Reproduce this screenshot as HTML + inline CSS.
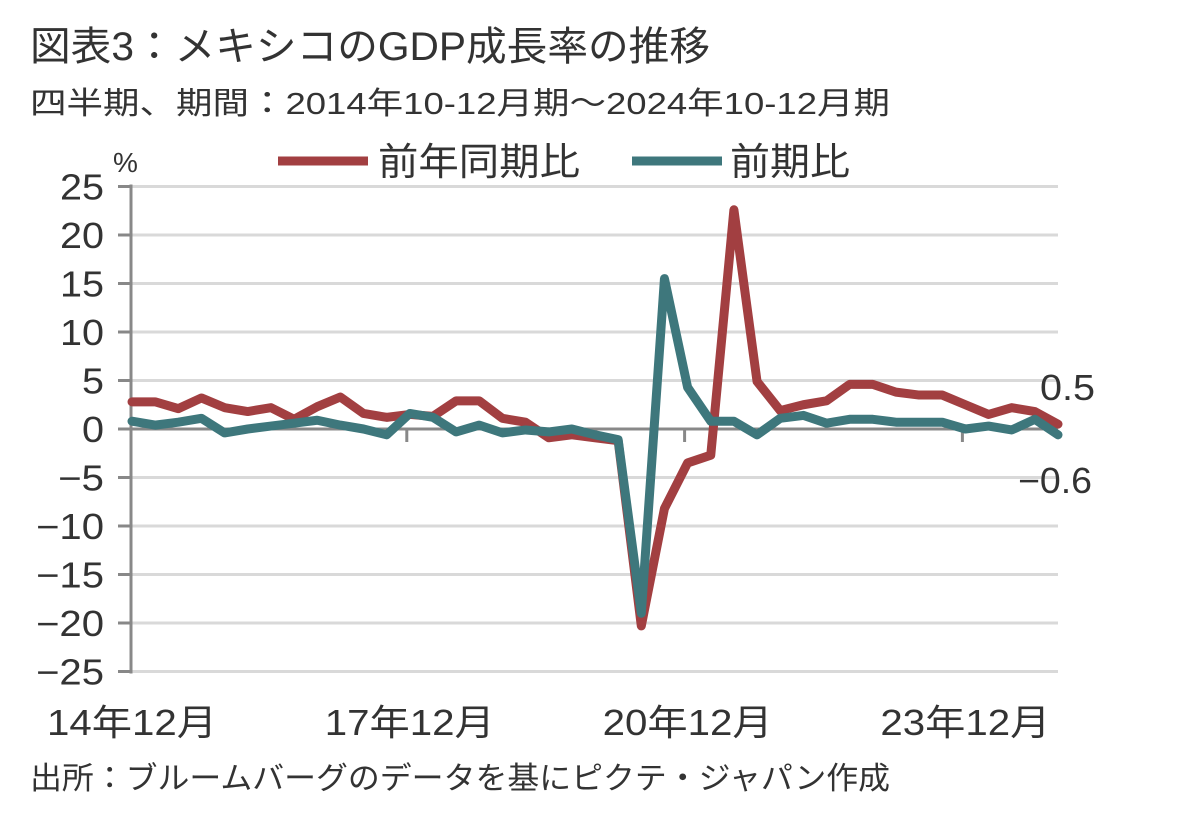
<!DOCTYPE html>
<html><head><meta charset="utf-8"><style>
body{margin:0;background:#fff;width:1182px;height:812px;overflow:hidden;font-family:"Liberation Sans","Noto Sans CJK JP",sans-serif;}
svg text{font-family:"Liberation Sans","Noto Sans CJK JP",sans-serif;}
</style></head><body>
<svg id="chart" width="1182" height="812" xmlns="http://www.w3.org/2000/svg">
<text x="30" y="60" font-size="40" fill="#333" textLength="680" lengthAdjust="spacingAndGlyphs">図表3：メキシコのGDP成長率の推移</text>
<text x="30" y="114" font-size="31" fill="#333" textLength="860" lengthAdjust="spacingAndGlyphs">四半期、期間：2014年10-12月期～2024年10-12月期</text>
<text x="113" y="172" font-size="28" fill="#333">%</text>
<g>
<line x1="278" y1="161" x2="368" y2="161" stroke="#a23f41" stroke-width="9"/>
<text x="378" y="175" font-size="38" fill="#333" textLength="202" lengthAdjust="spacingAndGlyphs">前年同期比</text>
<line x1="632" y1="161" x2="722" y2="161" stroke="#3e777c" stroke-width="9"/>
<text x="730" y="175" font-size="38" fill="#333" textLength="120" lengthAdjust="spacingAndGlyphs">前期比</text>
</g>
<g id="grid"></g><g id="axes"></g><g id="series"></g>
<text x="30" y="789" font-size="31" fill="#333" textLength="860" lengthAdjust="spacingAndGlyphs">出所：ブルームバーグのデータを基にピクテ・ジャパン作成</text>
</svg>
<script>
const yTicks=[25,20,15,10,5,0,-5,-10,-15,-20,-25];
const xLabels=["14年12月","17年12月","20年12月","23年12月"];
const xLabelIdx=[0,12,24,36];
const yoy=[2.8,2.8,2.1,3.2,2.2,1.8,2.2,1.0,2.3,3.3,1.6,1.2,1.5,1.3,2.9,2.9,1.1,0.7,-0.9,-0.6,-0.9,-1.2,-20.3,-8.2,-3.5,-2.7,22.6,4.9,1.9,2.5,2.9,4.6,4.6,3.8,3.5,3.5,2.5,1.5,2.2,1.8,0.5];
const qoq=[0.8,0.4,0.7,1.1,-0.4,0.0,0.3,0.6,0.9,0.4,0.0,-0.6,1.6,1.2,-0.3,0.4,-0.4,-0.1,-0.3,0.0,-0.6,-1.1,-19.0,15.5,4.3,0.8,0.8,-0.6,1.1,1.4,0.6,1.0,1.0,0.7,0.7,0.7,0.0,0.3,-0.1,1.0,-0.6];
const endLabels=["0.5","-0.6"];
const NS="http://www.w3.org/2000/svg";
const x=i=>132+i*23.15;
const y=v=>429-v*9.7;
function mk(tag,attrs,parent){const e=document.createElementNS(NS,tag);for(const k in attrs)e.setAttribute(k,attrs[k]);parent.appendChild(e);return e;}
const grid=document.getElementById('grid'),axes=document.getElementById('axes'),series=document.getElementById('series');
yTicks.forEach(t=>{
  if(t!==0){const g=mk('line',{x1:132,x2:1058,y1:y(t),y2:y(t),stroke:'#d9d9d9','stroke-width':3},grid);
  
  }
  const tk=mk('line',{x1:118,x2:131,y1:y(t),y2:y(t),stroke:'#888','stroke-width':3},axes);
  
  
  const s=String(t).replace('-','−');
  const tx=mk('text',{x:104,y:y(t)+13,'font-size':36,'text-anchor':'end',fill:'#333',textLength:(t<0?24:0)+s.replace('−','').length*22,lengthAdjust:'spacingAndGlyphs'},axes);
  tx.textContent=s;
  
  
});
const ya=mk('line',{x1:131,x2:131,y1:y(25)-2,y2:y(-25)+2,stroke:'#888','stroke-width':3},axes);


const z=mk('line',{x1:131,x2:1058,y1:y(0),y2:y(0),stroke:'#888','stroke-width':3},axes);


xLabelIdx.forEach((idx,k)=>{
  const px=x(idx);
  if(idx>0){const t=mk('line',{x1:px-3,x2:px-3,y1:y(0),y2:y(0)+13,stroke:'#888','stroke-width':3},axes);
  
  }
  const tx=mk('text',{x:px,y:735,'font-size':36,'text-anchor':'middle',fill:'#333',textLength:170,lengthAdjust:'spacingAndGlyphs'},axes);
  tx.textContent=xLabels[k];
  
  
});
function line(data,color,name){
  const p=mk('polyline',{points:data.map((v,i)=>x(i)+','+y(v)).join(' '),fill:'none',stroke:color,'stroke-width':9,'stroke-linejoin':'round','stroke-linecap':'round'},series);
  
  
}
line(yoy,'#a23f41','yoy-line');
line(qoq,'#3e777c','qoq-line');
const l1=mk('text',{x:1095,y:400,'font-size':36,'text-anchor':'end',fill:'#333',textLength:55,lengthAdjust:'spacingAndGlyphs'},series);
l1.textContent=endLabels[0];


const l2=mk('text',{x:1092,y:493,'font-size':36,'text-anchor':'end',fill:'#333',textLength:74,lengthAdjust:'spacingAndGlyphs'},series);
l2.textContent=endLabels[1].replace('-','−');


</script>
</body></html>
